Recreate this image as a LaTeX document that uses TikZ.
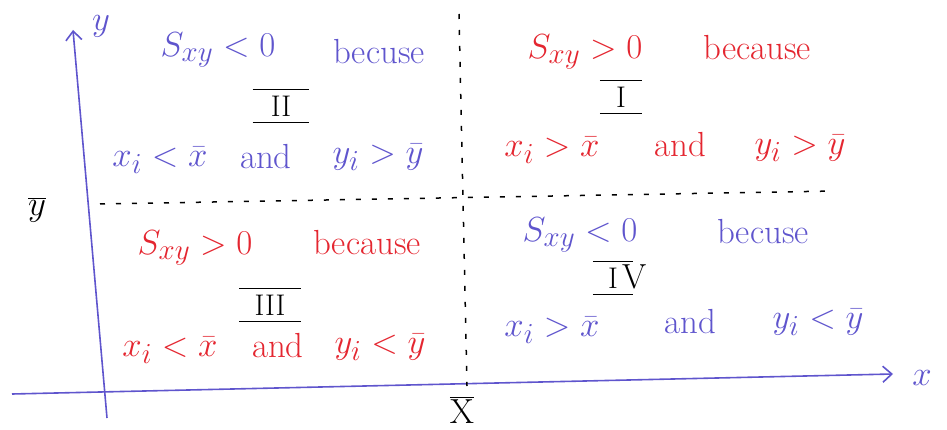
\documentclass[tikz,border=0pt]{standalone}
\usepackage{graphicx}
\usetikzlibrary{arrows.meta}
\definecolor{inkblue}{RGB}{95,85,205}
\definecolor{inkred}{RGB}{228,38,48}
\newcommand{\hw}[1]{\scalebox{1.4}{#1}}
\newcommand{\rn}[1]{\scalebox{1.2}{#1}}
\begin{document}
\begin{tikzpicture}[x=1pt,y=-1pt,
  lbl/.style={font=\Huge, inner sep=0pt, anchor=center},
  blu/.style={lbl, text=inkblue},
  rd/.style={lbl, text=inkred},
  num/.style={lbl, text=black, inner xsep=18pt, inner ysep=6pt},
  numbar/.style={draw=black, line width=1.6pt},
  axis/.style={draw=inkblue, line width=1.6pt, -{Straight Barb[length=9pt,width=16pt,line width=1.6pt]}},
  guide/.style={draw=black, line width=1.5pt, dash pattern=on 5pt off 11pt}
]
\useasboundingbox (0,0) rectangle (947,430);
% axes
\coordinate (yb) at (107,418);
\coordinate (yt) at (73,30);
\coordinate (xl) at (12,394);
\coordinate (xr) at (893,374);
\draw[axis] (yb) -- (yt);
\draw[axis] (xl) -- (xr);
\node[lbl, text=inkblue] (ylab) at (101,26) {\hw{$y$}};
\node[lbl, text=inkblue] (xlab) at (922,378) {\hw{$x$}};
% guide lines
\coordinate (vt) at (459,14);
\coordinate (vb) at (467,386);
\coordinate (hl) at (100,204);
\coordinate (hr) at (835,191);
\draw[guide] (vt) -- (vb);
\draw[guide] (hl) -- (hr);
\node[lbl] (ybar) at (37,210) {\hw{$\overline{y}$}};
\node[lbl] (xbar) at (462,410) {\hw{$\overline{\mathrm{X}}$}};
% Quadrant II
\node[blu] (a1) at (218,50) {\hw{$S_{xy}<0$}};
\node[blu] (a2) at (379,52) {\hw{becuse}};
\node[num] (a3) at (281,106) {\rn{II}};
\node[blu] (a4) at (160,160) {\hw{$x_i<\bar{x}$}};
\node[blu] (a5) at (266,157) {\hw{and}};
\node[blu] (a6) at (378,157) {\hw{$y_i>\bar{y}$}};
% Quadrant I
\node[rd] (b1) at (585,52) {\hw{$S_{xy}>0$}};
\node[rd] (b2) at (757,48) {\hw{because}};
\node[num, inner xsep=16pt] (b3) at (621,97) {\rn{I}};
\node[rd] (b4) at (552,150) {\hw{$x_i>\bar{x}$}};
\node[rd] (b5) at (680,145) {\hw{and}};
\node[rd] (b6) at (800,148) {\hw{$y_i>\bar{y}$}};
% Quadrant III
\node[rd] (c1) at (195,248) {\hw{$S_{xy}>0$}};
\node[rd] (c2) at (367,243) {\hw{because}};
\node[num, inner xsep=15pt] (c3) at (270,305) {\rn{III}};
\node[rd] (c4) at (170,350) {\hw{$x_i<\bar{x}$}};
\node[rd] (c5) at (278,346) {\hw{and}};
\node[rd] (c6) at (380,347) {\hw{$y_i<\bar{y}$}};
% Quadrant IV
\node[blu] (d1) at (580,235) {\hw{$S_{xy}<0$}};
\node[blu] (d2) at (763,232) {\hw{becuse}};
\node[num, inner xsep=15pt] (d3) at (613,278) {\rn{I}};
\node[lbl, text=black, anchor=base west] (d3v) at ([xshift=-11pt]d3.base east) {\hw{V}};
\node[blu] (d4) at (552,330) {\hw{$x_i>\bar{x}$}};
\node[blu] (d5) at (690,322) {\hw{and}};
\node[blu] (d6) at (818,322) {\hw{$y_i<\bar{y}$}};
% bars of the numerals
\foreach \n in {a3,b3,c3,d3} {
  \draw[numbar] (\n.north west) -- (\n.north east);
  \draw[numbar] (\n.south west) -- (\n.south east);
}
\end{tikzpicture}
\end{document}
